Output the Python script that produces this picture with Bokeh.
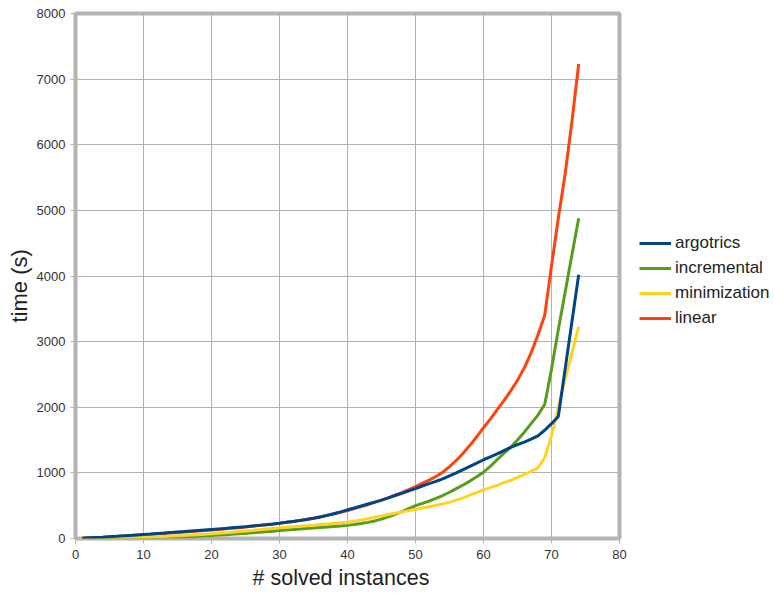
from bokeh.plotting import figure
from bokeh.models import Range1d, FixedTicker, Legend, LegendItem, Title
from bokeh.embed import file_html
from bokeh.resources import INLINE

x = list(range(1, 75))

argotrics = [5, 10, 15, 20, 27, 33, 40, 46, 53, 60,
             67, 75, 82, 90, 98, 105, 113, 121, 129, 137,
             145, 153, 162, 171, 180, 190, 200, 210, 221, 233,
             246, 260, 274, 290, 307, 328, 352, 378, 406, 437,
             465, 495, 525, 555, 585, 620, 655, 690, 725, 760,
             800, 835, 870, 909, 955, 1000, 1050, 1100, 1150, 1200,
             1245, 1290, 1340, 1390, 1430, 1470, 1515, 1565, 1650, 1750,
             1860, 2580, 3300, 4020]

incremental = [0, 1, 2, 3, 4, 5, 6, 7, 9, 11,
               13, 15, 18, 21, 24, 28, 32, 36, 41, 46,
               52, 58, 64, 71, 78, 86, 94, 103, 112, 122,
               130, 138, 146, 153, 160, 168, 176, 184, 191, 200,
               213, 228, 246, 268, 295, 330, 368, 410, 455, 500,
               535, 570, 610, 655, 705, 760, 815, 875, 940, 1011,
               1100, 1200, 1300, 1390, 1500, 1620, 1750, 1880, 2042, 2580,
               3180, 3750, 4320, 4880]

minimization = [1, 2, 4, 6, 8, 10, 12, 14, 17, 20,
                24, 28, 32, 37, 42, 47, 53, 59, 65, 71,
                79, 87, 96, 105, 114, 123, 133, 143, 153, 163,
                171, 179, 187, 195, 203, 212, 221, 230, 239, 248,
                265, 283, 302, 323, 345, 365, 385, 405, 425, 445,
                465, 485, 505, 525, 550, 585, 620, 660, 700, 740,
                775, 810, 850, 885, 930, 975, 1025, 1077, 1230, 1560,
                1990, 2420, 2830, 3230]

linear = [5, 10, 15, 20, 26, 32, 38, 44, 50, 56,
          62, 69, 76, 83, 90, 98, 106, 114, 122, 130,
          138, 147, 156, 165, 175, 186, 197, 208, 219, 232,
          246, 260, 276, 292, 310, 330, 352, 376, 400, 425,
          455, 485, 515, 550, 585, 620, 660, 700, 745, 790,
          840, 890, 945, 1010, 1095, 1190, 1300, 1420, 1550, 1690,
          1820, 1960, 2100, 2250, 2410, 2600, 2830, 3100, 3400, 4150,
          4880, 5550, 6350, 7230]

x_ticks = [0, 10, 20, 30, 40, 50, 60, 70, 80]
y_ticks = [0, 1000, 2000, 3000, 4000, 5000, 6000, 7000, 8000]
x_title = "# solved instances"
y_title = "time (s)"

series_names = ["argotrics", "incremental", "minimization", "linear"]
colors = {"argotrics": "#004586", "incremental": "#579d1c",
          "minimization": "#ffd320", "linear": "#ff420e"}
data = {"argotrics": argotrics, "incremental": incremental,
        "minimization": minimization, "linear": linear}

FONT = "Liberation Sans"
GRAY = "#b3b3b3"

p = figure(frame_width=544, frame_height=525, output_backend="svg", toolbar_location=None,
           x_range=Range1d(0, 80), y_range=Range1d(0, 8000),
           min_border_left=75, min_border_right=155, min_border_top=13,
           min_border_bottom=58)

p.outline_line_color = GRAY
p.outline_line_width = 4
p.background_fill_color = "white"
p.border_fill_color = "white"

p.xaxis.ticker = FixedTicker(ticks=x_ticks)
p.yaxis.ticker = FixedTicker(ticks=y_ticks)
for ax in (p.xaxis[0], p.yaxis[0]):
    ax.axis_line_color = None
    ax.major_tick_out = 5
    ax.major_tick_in = 0
    ax.major_tick_line_color = GRAY
    ax.minor_tick_line_color = None
    ax.major_label_text_font = FONT
    ax.major_label_text_font_size = "13px"
    ax.major_label_text_color = "#333333"
p.xaxis.major_label_standoff = 6
p.yaxis.major_label_standoff = 5

# axis titles as side titles so they can be offset like the original
xt = Title(text=x_title, align="left", offset=177, text_font=FONT,
           text_font_size="21.5px", text_font_style="normal", text_color="#222222",
           standoff=9, vertical_align="top")
p.add_layout(xt, "below")
yt = Title(text=y_title, align="left", offset=216, text_font=FONT,
           text_font_size="22px", text_font_style="normal", text_color="#222222",
           standoff=4)
p.add_layout(yt, "left")

p.xgrid.grid_line_color = GRAY
p.ygrid.grid_line_color = GRAY
p.xgrid.grid_line_width = 1
p.ygrid.grid_line_width = 1

renderers = {}
for name in ["linear", "incremental", "minimization", "argotrics"]:
    renderers[name] = p.line(x, data[name], line_color=colors[name], line_width=3)

legend = Legend(items=[LegendItem(label=n, renderers=[renderers[n]]) for n in series_names],
                location=(20, 210))
legend.border_line_color = None
legend.background_fill_alpha = 0
legend.label_text_font = FONT
legend.label_text_font_size = "17px"
legend.label_text_color = "#222222"
legend.glyph_width = 32
legend.glyph_height = 20
legend.label_height = 20
legend.spacing = 5
legend.label_standoff = 4
legend.padding = 0
legend.margin = 0
p.add_layout(legend, "right")

open("out.html", "w").write(file_html(p, INLINE))
